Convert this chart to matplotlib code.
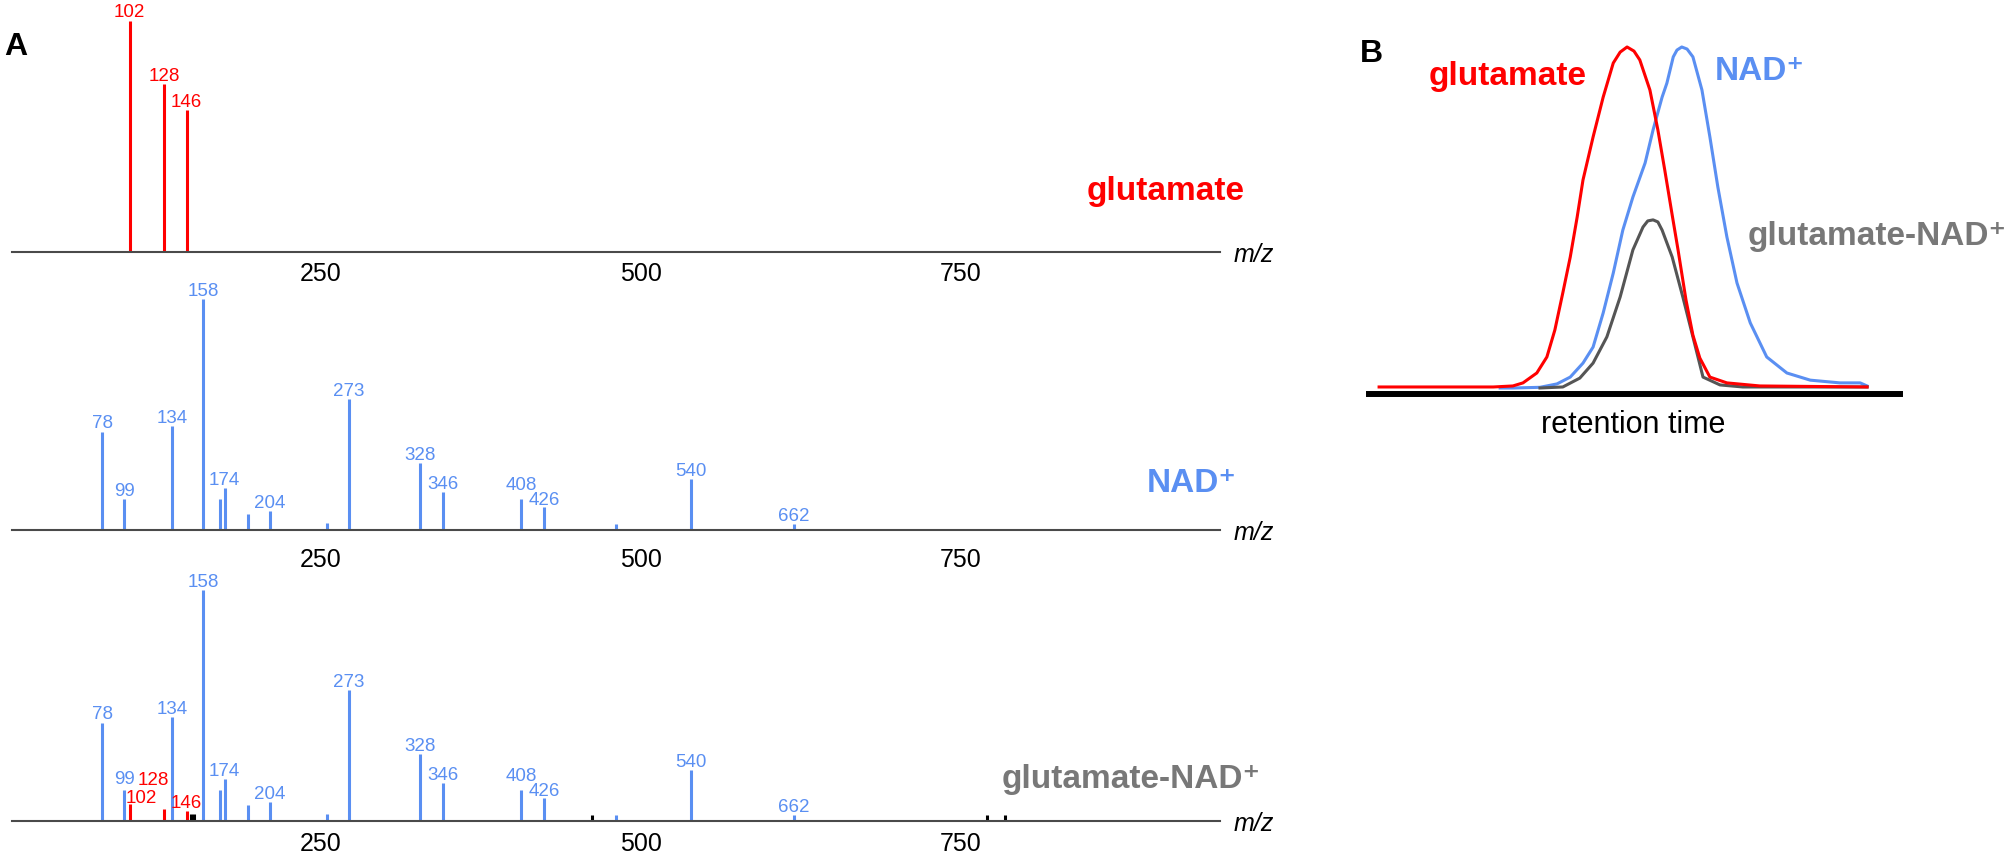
import matplotlib
matplotlib.use('Agg')
import matplotlib.pyplot as plt

# ---- panel A: MS/MS spectra (m/z, relative intensity %) ----
glu_mz = [100.4, 127.6, 145.0]
glu_int = [100, 72.7, 61.5]
glu_lab = ['102', '128', '146']

nad_mz = [79, 96.4, 133.5, 158, 171, 174.8, 192.6, 210, 254.5, 272,
          327.5, 345, 406.5, 424.5, 480.5, 539, 619.5]
nad_int = [42.4, 13.4, 45.0, 100, 13.4, 18.2, 6.9, 8.2, 3.0, 56.7,
           29.0, 16.5, 13.4, 10.0, 2.6, 22.1, 2.6]
nad_lab = ['78', '99', '134', '158', '', '174', '', '204', '', '273',
           '328', '346', '408', '426', '', '540', '662']

adduct_red_int = [7.4, 5.2, 4.3]
adduct_blk_mz = [148.5, 150.8, 462, 770, 784]
adduct_blk_int = [3.0, 3.0, 2.5, 2.5, 2.5]

mz_ticks = [250, 500, 750]

# ---- panel B: extracted ion chromatograms (retention time 0-100, % max) ----
red_rt = [1.9, 23.4, 27.1, 29.0, 31.6, 33.5, 35.0, 36.5, 37.9, 39.2, 40.3, 42.2,
          44.1, 46.0, 47.3, 48.6, 49.9, 51.0, 52.9, 54.4, 55.7, 57.1, 58.2,
          59.7, 61.0, 62.3, 64.2, 67.4, 73.6, 93.8]
red_int = [0.3, 0.3, 0.6, 1.5, 4.4, 9.1, 17.0, 27.9, 38.4, 50.1, 61.0, 73.6,
           85.3, 95.3, 98.5, 100, 98.8, 96.2, 87.4, 75.7, 63.9, 50.7, 40.5,
           25.8, 15.5, 8.8, 3.2, 1.5, 0.6, 0.3]

blue_rt = [24.7, 27.1, 32.2, 35.4, 37.9, 40.3, 42.2, 44.1, 46.0, 47.8, 49.7,
           52.0, 53.5, 55.2, 56.1, 57.3, 58.0, 58.9, 59.9, 61.0, 62.7, 64.2,
           65.7, 67.4, 69.3, 71.8, 74.9, 78.7, 83.1, 88.7, 92.5, 93.8]
blue_int = [0, 0, 0.2, 1.2, 3.2, 7.3, 12.0, 22.0, 33.7, 46.3, 56.0,
            66.0, 75.7, 85.3, 89.4, 97.1, 99.1, 100, 99.4, 97.1, 87.4, 73.6,
            58.9, 44.3, 30.8, 19.1, 9.1, 4.4, 2.3, 1.5, 1.5, 0.6]

gray_rt = [32.2, 36.5, 39.7, 42.2, 44.8, 47.3, 49.7, 51.6, 52.5, 53.5, 54.4,
           55.2, 57.1, 59.1, 61.0, 62.9, 66.1, 70.4, 93.8]
gray_int = [0, 0.3, 2.9, 7.3, 15.0, 26.7, 40.5, 47.2, 49.0, 49.3, 48.7,
            46.3, 38.4, 26.7, 15.0, 3.2, 0.9, 0.3, 0.3]

RED = '#ff0000'
BLUE = '#5a8ff2'
GRAY_TXT = '#787878'
GRAY_LINE = '#555555'
FONT = ['Liberation Sans', 'DejaVu Sans']
plt.rcParams['font.family'] = FONT

W, H = 2010, 859
fig = plt.figure(figsize=(W / 100, H / 100), dpi=100)


def box(l, t, r, b):
    return [l / W, 1 - b / H, (r - l) / W, (b - t) / H]


def spectrum_axes(top, bottom, tick_pad):
    ax = fig.add_axes(box(12, top, 1220, bottom))
    ax.patch.set_visible(False)
    ax.set_xlim(8.6, 952.3)
    ax.set_ylim(0, 109.1)
    for s in ['top', 'right', 'left']:
        ax.spines[s].set_visible(False)
    ax.spines['bottom'].set_color('#4a4a4a')
    ax.spines['bottom'].set_linewidth(1.5)
    ax.set_yticks([])
    ax.set_xticks(mz_ticks)
    ax.set_xticklabels([str(t) for t in mz_ticks])
    ax.tick_params(axis='x', length=0, pad=tick_pad, labelsize=18)
    ax.annotate('m/z', xy=(1, 0), xycoords='axes fraction', xytext=(24.5, -7),
                textcoords='offset points', ha='center', va='baseline',
                fontsize=18, style='italic')
    return ax


def stems(ax, mz, inten, color, lw=2.2):
    ax.vlines(mz, 0, inten, colors=color, linewidth=lw)


def labels(ax, mz, inten, labs, color, special=None):
    special = special or {}
    for x, y, t in zip(mz, inten, labs):
        if not t:
            continue
        dx, dy = special.get(t, (0, 2))
        ax.annotate(t, xy=(x, y), xytext=(dx, dy), textcoords='offset points',
                    ha='center', va='baseline', fontsize=13.5, color=color,
                    annotation_clip=False)


nad_offsets = {'78': (0, 3), '408': (0, 6.5), '426': (0, 1.4)}

# top: glutamate
ax1 = spectrum_axes(0, 252, 7)
stems(ax1, glu_mz, glu_int, RED)
labels(ax1, glu_mz, glu_int, glu_lab, RED, special={'102': (0, 2.8)})

# middle: NAD+
ax2 = spectrum_axes(278, 530, 13)
stems(ax2, nad_mz, nad_int, BLUE)
labels(ax2, nad_mz, nad_int, nad_lab, BLUE, special=nad_offsets)

# bottom: glutamate-NAD+
ax3 = spectrum_axes(569, 821, 8)
stems(ax3, nad_mz, nad_int, BLUE)
stems(ax3, glu_mz, adduct_red_int, RED)
stems(ax3, adduct_blk_mz, adduct_blk_int, 'black')
labels(ax3, nad_mz, nad_int, nad_lab, BLUE, special=dict(nad_offsets, **{'99': (0, 4.3)}))
labels(ax3, glu_mz, adduct_red_int, glu_lab, RED,
       special={'102': (8.6, 0.7), '128': (-7.9, 17.3), '146': (0, 2.2)})

# compound names, panel A
fig.text(1245 / W, 1 - 200 / H, 'glutamate', color=RED, fontsize=24,
         fontweight='bold', ha='right', va='baseline')
fig.text(1237 / W, 1 - 492 / H, 'NAD\u207a', color=BLUE, fontsize=24,
         fontweight='bold', ha='right', va='baseline')
fig.text(1261 / W, 1 - 788 / H, 'glutamate-NAD\u207a', color=GRAY_TXT, fontsize=24,
         fontweight='bold', ha='right', va='baseline')

# ---- panel B ----
axb = fig.add_axes(box(1369, 40, 1900, 394))
axb.patch.set_visible(False)
axb.set_xlim(0, 100)
axb.set_ylim(-1.76, 102.05)
for s in ['top', 'right', 'left']:
    axb.spines[s].set_visible(False)
axb.spines['bottom'].set_color('black')
axb.spines['bottom'].set_linewidth(4.3)
axb.set_xticks([])
axb.set_yticks([])
axb.plot(blue_rt, blue_int, color=BLUE, linewidth=2.2)
axb.plot(gray_rt, gray_int, color=GRAY_LINE, linewidth=2.2)
axb.plot(red_rt, red_int, color=RED, linewidth=2.2)

fig.text(1633 / W, 1 - 425 / H, 'retention time', fontsize=22,
         ha='center', va='center')
fig.text(1429 / W, 1 - 85 / H, 'glutamate', color=RED, fontsize=24,
         fontweight='bold', ha='left', va='baseline')
fig.text(1715 / W, 1 - 80 / H, 'NAD\u207a', color=BLUE, fontsize=24,
         fontweight='bold', ha='left', va='baseline')
fig.text(2007 / W, 1 - 245 / H, 'glutamate-NAD\u207a', color=GRAY_TXT, fontsize=24,
         fontweight='bold', ha='right', va='baseline')

# panel letters
fig.text(4 / W, 1 - 55 / H, 'A', fontsize=23, fontweight='bold', ha='left', va='baseline')
fig.text(1360 / W, 1 - 62 / H, 'B', fontsize=23, fontweight='bold', ha='left', va='baseline')

fig.savefig('out.png', dpi=100)
